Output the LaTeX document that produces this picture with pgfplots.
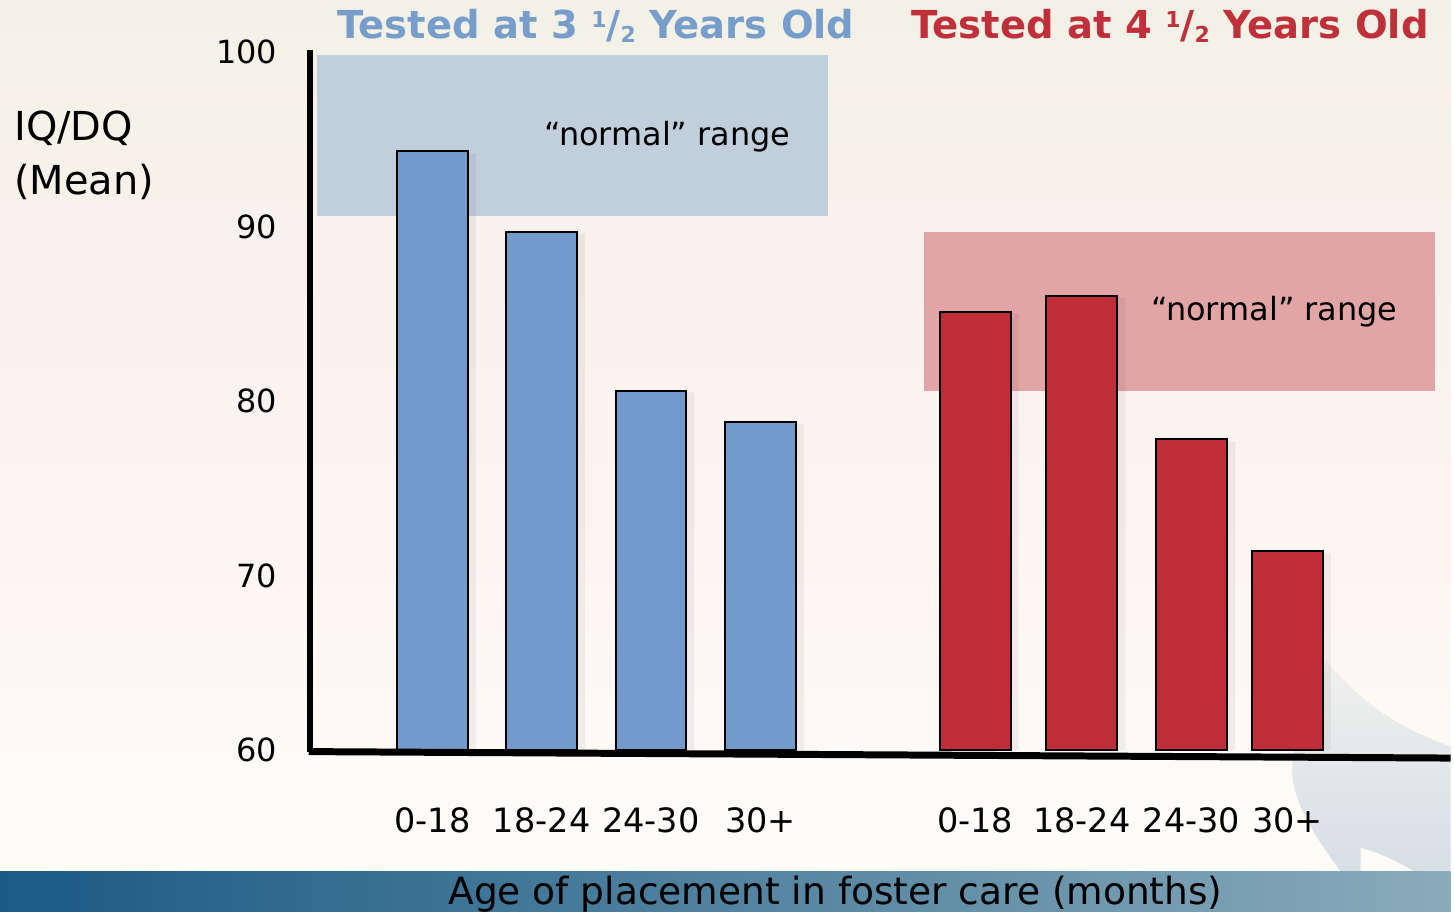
\documentclass[border=0pt]{standalone}
\usepackage{pgfplots}
\pgfplotsset{compat=1.18}
\usepackage{fontspec}
\setmainfont{DejaVu Sans}
\definecolor{barblue}{HTML}{729ACA}
\definecolor{barred}{HTML}{BE2D38}
\definecolor{boxblue}{HTML}{C1CFDC}
\definecolor{boxred}{HTML}{E1A5A6}
\definecolor{titleblue}{HTML}{779ECB}
\definecolor{titlered}{HTML}{C0303B}
\definecolor{bgtop}{HTML}{F3F1E6}
\definecolor{bgmid}{HTML}{FAF3EF}
\definecolor{bgbot}{HTML}{FEFCF9}
\definecolor{stripL}{HTML}{1A5A84}
\definecolor{stripR}{HTML}{8AABBB}
\definecolor{swooshA}{HTML}{F0F0EE}
\definecolor{swooshB}{HTML}{D6DFE4}
\newcommand{\half}{\raisebox{5.5pt}{\fontsize{11}{12}\selectfont 1}/\raisebox{-2pt}{\fontsize{11}{12}\selectfont 2}}
\begin{document}
\begin{tikzpicture}
\shade[top color=bgtop, bottom color=bgmid] (0,0) rectangle (727pt,-200pt);
\shade[top color=bgmid, bottom color=bgbot] (0,-200pt) rectangle (727pt,-437pt);
\shade[top color=swooshA, bottom color=swooshB] (665pt,-331.5pt) .. controls (680pt,-350pt) and (700pt,-365pt) .. (727pt,-374pt)
  -- (727pt,-437pt) -- (672pt,-437pt) .. controls (660pt,-420pt) and (645pt,-400pt) .. (648pt,-380pt)
  .. controls (652pt,-360pt) and (658pt,-345pt) .. cycle;
\fill[bgbot] (682pt,-425pt) .. controls (700pt,-430pt) and (715pt,-440pt) .. (727pt,-450pt) -- (727pt,-437pt) -- (682pt,-437pt) -- cycle;
\shade[left color=stripL, right color=stripR] (0,-437pt) rectangle (727pt,-457pt);
\begin{axis}[
  scale only axis, width=571.5pt, height=350pt,
  at={(155.5pt,-376pt)}, anchor=south west,
  xmin=311, xmax=1454, ymin=60, ymax=100,
  axis line style={draw=none}, major tick length=0pt,
  ytick={60,70,80,90,100},
  yticklabel style={font=\fontsize{16}{19}\selectfont, xshift=-13pt},
  xtick={433.5,543,652.5,762.5,977.5,1084.5,1194.5,1290.5},
  xticklabels={0-18,18-24,24-30,30+,0-18,18-24,24-30,30+},
  xticklabel style={font=\fontsize{16.8}{20}\selectfont, yshift=-25pt},
  /pgf/number format/assume math mode=true,
  clip mode=individual,
  bar width=71,
]
\fill[boxblue] (axis cs:318,90.6) rectangle (axis cs:830,99.8);
\fill[boxred] (axis cs:926.5,80.6) rectangle (axis cs:1438,89.7);
\addplot[ybar, bar shift=4pt, fill=black, fill opacity=0.05, draw=none]
  coordinates {(433.5,94.2) (543,89.6) (652.5,80.5) (762.5,78.7)};
\addplot[ybar, bar shift=4pt, fill=black, fill opacity=0.05, draw=none]
  coordinates {(977.5,85.0) (1084.5,85.9) (1194.5,77.7) (1290.5,71.3)};
\addplot[ybar, bar shift=0pt, fill=barblue, draw=black, line width=1pt]
  coordinates {(433.5,94.3) (543,89.7) (652.5,80.6) (762.5,78.8)};
\addplot[ybar, bar shift=0pt, fill=barred, draw=black, line width=1pt]
  coordinates {(977.5,85.1) (1084.5,86.0) (1194.5,77.8) (1290.5,71.4)};
\draw[line width=3pt] (axis cs:311,100.1) -- (axis cs:311,59.9);
\draw[line width=3.5pt] (axis cs:309.5,59.92) -- (axis cs:1454,59.55);
\node[anchor=base, font=\fontsize{16}{19}\selectfont] at (axis cs:669,94.63) {“normal” range};
\node[anchor=base, font=\fontsize{16}{19}\selectfont] at (axis cs:1277.5,84.59) {“normal” range};
\node[anchor=base, font=\fontsize{19.3}{23}\selectfont\bfseries, text=titleblue] at (axis cs:597.5,100.78) {Tested at 3 \half{} Years Old};
\node[anchor=base, font=\fontsize{19.3}{23}\selectfont\bfseries, text=titlered] at (axis cs:1173,100.78) {Tested at 4 \half{} Years Old};
\node[anchor=base west, inner sep=0pt, font=\fontsize{20}{24}\selectfont] at (axis cs:14,94.92) {IQ/DQ};
\node[anchor=base west, inner sep=0pt, font=\fontsize{20}{24}\selectfont] at (axis cs:14,91.83) {(Mean)};
\node[anchor=base, inner sep=0pt, font=\fontsize{18.8}{22}\selectfont] at (axis cs:837.5,51.14) {Age of placement in foster care (months)};
\end{axis}
\useasboundingbox (0,0) rectangle (727pt,-457pt);
\end{tikzpicture}
\end{document}
